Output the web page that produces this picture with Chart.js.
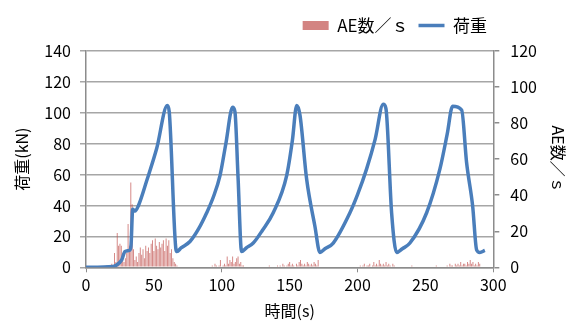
<!DOCTYPE html>
<html>
<head>
<meta charset="utf-8">
<script src="https://cdn.jsdelivr.net/npm/chart.js@4"></script>
<style>
    html, body { margin: 0; padding: 0; background: #fff; }
    #wrap { width: 574px; height: 321px; }
</style>
</head>
<body>
<div id="wrap"><canvas id="loadChart"></canvas></div>
<script>
"use strict";

// 荷重 (kN) vs time (s)
const loadTime = [0, 20, 22.6, 26.3, 28.7, 31.9, 33.1, 34.4, 36.1, 38.5, 44.7, 52.1, 59.9,
    61.3, 66.3, 67, 70, 76.6, 83, 88.9, 94, 98.7, 103, 108,
    109.7, 112, 114.6, 118, 123.2, 130, 137.9, 147.8, 152, 155.2,
    157.6, 162.5, 168.6, 172.3, 176, 182.1, 194.4, 200, 206.7, 213, 218.9,
    220.9, 225.1, 228.8, 233, 238.6, 250.9, 260.7, 266, 270,
    276.7, 280.3, 284.8, 287.7, 290.1, 293.8];
const loadKN = [0, 0.5, 1.5, 4.8, 10.2, 10.9, 13.5, 37.5, 36.4, 39.7, 56, 77, 104.7,
    100.7, 11.3, 10.2, 12.5, 16.7, 25, 35.3, 46, 59.3, 80, 103.6,
    100.7, 58, 10.2, 12.5, 15.7, 24, 35.3, 59.3, 82, 104.7,
    98.5, 57.1, 26.6, 9.6, 12, 15.7, 35.3, 47, 63.7, 83, 105.5,
    102.9, 35.3, 9.6, 12, 15.7, 35.3, 63.7, 86, 104.2,
    101.8, 68, 39.6, 11.3, 9.6, 10.9];

// AE数/s, one value per second, in bursts (start time, counts)
const ae1Start = 15;
const ae1 = [1, 1, 0, 1, 2, 1, 8, 3, 19, 12, 13, 12, 6, 3, 5, 8, 24, 12, 47, 35, 10, 4, 6, 3, 8,
    11, 7, 10, 5, 12, 9, 11, 8, 13, 15, 9, 16, 12, 10, 14, 11, 13, 15, 9, 16, 12, 15, 8, 10, 5, 3, 2, 1];
const ae2Start = 93;
const ae2 = [1, 0, 2, 1, 0, 1, 4, 0, 1, 2, 1, 6, 2, 4, 3, 6, 2, 3, 5, 6, 2, 3, 1, 1];
const ae3Start = 135;
const ae3 = [1, 0, 0, 0, 0, 0, 1, 0, 1, 0, 2, 1, 0, 1, 2, 3, 1, 2, 1, 0, 2, 1, 3, 4, 2, 1, 2, 1, 3, 2,
    1, 2, 1, 3, 2, 1, 4];
const ae4Start = 202;
const ae4 = [1, 0, 1, 2, 0, 1, 1, 2, 0, 1, 3, 1, 2, 1, 4, 2, 1, 2, 1, 3, 1, 2, 1, 0, 2, 1];
const ae5Start = 240;
const ae5 = [1, 0, 0, 0, 0, 0, 0, 0, 0, 0, 0, 0, 0, 0, 0, 0, 0, 0, 1, 0, 0, 0, 0, 0, 0, 0,
    1, 0, 2, 1, 1, 0, 2, 1, 2, 1, 3, 1, 2, 2, 1, 3, 2, 4, 2, 3, 1, 2, 1, 3, 2];

const xTicks = [0, 50, 100, 150, 200, 250, 300];
const loadTicks = [0, 20, 40, 60, 80, 100, 120, 140];
const aeTicks = [0, 20, 40, 60, 80, 100, 120];

const FONT = "'Noto Sans CJK JP', 'Noto Sans', sans-serif";
const GRID = "#a6a6a6";
const AXIS = "#8c8c8c";

(() => {

    let aePoints = [];
    [[ae1Start, ae1], [ae2Start, ae2], [ae3Start, ae3], [ae4Start, ae4], [ae5Start, ae5]].forEach(([start, counts]) => {
        counts.forEach((c, i) => {
            aePoints.push({x: start + i, y: c});
        });
    });

    let loadPoints = loadTime.map((t, i) => ({x: t, y: loadKN[i]}));

    // move the legend box (Chart.js always places it against the canvas edge)
    const legendShift = {
        id: "legendShift",
        afterLayout(chart) {
            let lg = chart.legend;
            let dx = 497 - lg.right;
            lg.left += dx;
            lg.right += dx;
            lg.top -= 7;
            lg.bottom -= 7;
        }
    };

    new Chart(document.getElementById("loadChart"), {
        data: {
            datasets: [
                {
                    type: "bar",
                    label: "AE数／ｓ",
                    data: aePoints,
                    yAxisID: "y1",
                    backgroundColor: "rgba(192,80,77,0.7)",
                    borderWidth: 0,
                    barPercentage: 0.7,
                    categoryPercentage: 1,
                    pointStyle: "rect",
                    order: 2
                },
                {
                    type: "line",
                    label: "荷重",
                    data: loadPoints,
                    yAxisID: "y",
                    borderColor: "#4a7ebb",
                    backgroundColor: "#4a7ebb",
                    borderWidth: 3.5,
                    pointRadius: 0,
                    pointStyle: "line",
                    cubicInterpolationMode: "monotone",
                    order: 1
                }
            ]
        },
        options: {
            responsive: true,
            maintainAspectRatio: false,
            animation: false,
            layout: {padding: {top: 14, left: 0, right: 0, bottom: 0}},
            plugins: {
                tooltip: {enabled: false},
                legend: {
                    position: "top",
                    align: "end",
                    labels: {
                        usePointStyle: true,
                        pointStyleWidth: 26,
                        boxHeight: 9,
                        padding: 10,
                        color: "#000",
                        font: {family: FONT, size: 17},
                        sort: (a, b) => a.datasetIndex - b.datasetIndex
                    }
                }
            },
            scales: {
                x: {
                    type: "linear",
                    min: 0,
                    max: 300,
                    offset: false,
                    afterBuildTicks: (axis) => { axis.ticks = xTicks.map(v => ({value: v})); },
                    afterFit: (axis) => { axis.height = 53.7; },
                    ticks: {color: "#000", font: {family: FONT, size: 16}, padding: 3, maxRotation: 0},
                    grid: {
                        offset: false,
                        drawOnChartArea: false,
                        tickLength: 5,
                        color: (ctx) => (ctx.tick && ctx.tick.value % 100 === 0 ? AXIS : "rgba(0,0,0,0)")
                    },
                    border: {color: AXIS, width: 1.5},
                    title: {display: true, text: "時間(s)", color: "#000", font: {family: FONT, size: 16}, padding: 0}
                },
                y: {
                    position: "left",
                    min: 0,
                    max: 140,
                    afterBuildTicks: (axis) => { axis.ticks = loadTicks.map(v => ({value: v})); },
                    afterFit: (axis) => { axis.width = 86; },
                    ticks: {color: "#000", font: {family: FONT, size: 16}, padding: 9},
                    grid: {color: GRID, lineWidth: 1.5, tickLength: 6},
                    border: {color: AXIS, width: 1.5},
                    title: {display: true, text: "荷重(kN)", color: "#000", font: {family: FONT, size: 16}, padding: {top: 12}}
                },
                y1: {
                    position: "right",
                    min: 0,
                    max: 120,
                    afterBuildTicks: (axis) => { axis.ticks = aeTicks.map(v => ({value: v})); },
                    afterFit: (axis) => { axis.width = 80.7; },
                    ticks: {color: "#000", font: {family: FONT, size: 16}, padding: 11},
                    grid: {drawOnChartArea: false, color: AXIS, lineWidth: 1.5, tickLength: 6},
                    border: {color: AXIS, width: 1.5},
                    title: {display: true, text: "AE数／ｓ", color: "#000", font: {family: FONT, size: 16}, padding: {top: 6}}
                }
            }
        },
        plugins: [legendShift]
    });

})();
</script>
</body>
</html>
